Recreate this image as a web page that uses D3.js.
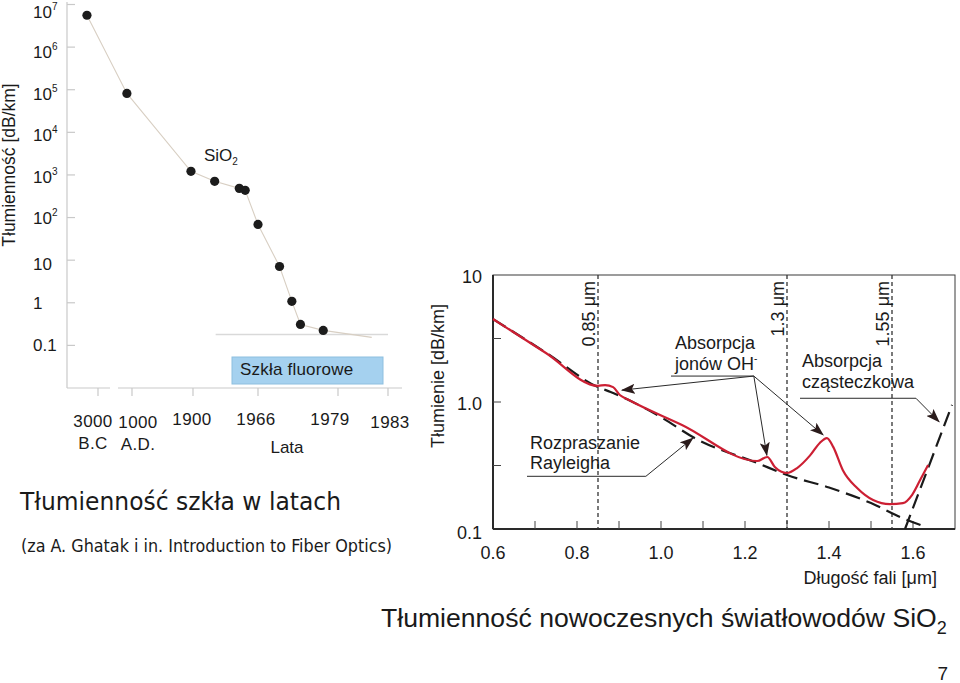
<!DOCTYPE html>
<html><head><meta charset="utf-8">
<script src="https://cdn.jsdelivr.net/npm/d3@7"></script>
<style>
body{margin:0;background:#fff}
svg{display:block}
text{fill:#1a1a1a}
</style>
</head><body>
<svg id="c" width="960" height="683"></svg>
<script>
// ---------- Left chart: glass attenuation over the years ----------
const histYears = [-4300, 400, 1870, 1922, 1947, 1953, 1966, 1969.5, 1971.5, 1972.9, 1976.6];
const histLoss  = [5.6e6, 8.2e4, 1215, 708, 484, 435, 69, 7.1, 1.08, 0.31, 0.225];
const trendYears = [-4300, 400, 1870, 1922, 1947, 1953, 1966, 1969.5, 1971.5, 1972.9, 1976.6, 1981.7];
const trendLoss  = [5.6e6, 8.2e4, 1215, 708, 484, 435, 69, 7.1, 1.08, 0.31, 0.225, 0.154];
const fluorideYears = [1923, 1983];
const fluorideLoss  = [0.18, 0.18];
const yearTicks = [-3000, 1000, 1900, 1966, 1979, 1983];
const yearTickLabels = [["3000","B.C"],["1000","A.D."],["1900"],["1966"],["1979"],["1983"]];
const lossTicks = [1e7, 1e6, 1e5, 1e4, 1e3, 1e2, 10, 1, 0.1];
const lossTickLabels = [["10","7"],["10","6"],["10","5"],["10","4"],["10","3"],["10","2"],["10",""],["1",""],["0.1",""]];

// ---------- Right chart: modern SiO2 fibre attenuation ----------
const fibreWl   = [0.6, 0.726, 0.85, 0.867, 0.886, 0.902, 0.919, 1.05, 1.229, 1.253, 1.271, 1.3, 1.324, 1.355, 1.378, 1.395, 1.41, 1.433, 1.467, 1.505, 1.545, 1.576, 1.598, 1.617, 1.636];
const fibreLoss = [4.5, 2.43, 1.34, 1.36, 1.31, 1.135, 1.056, 0.66, 0.343, 0.369, 0.308, 0.276, 0.302, 0.38, 0.476, 0.52, 0.443, 0.29, 0.21, 0.169, 0.157, 0.16, 0.186, 0.243, 0.319];
const rayleighWl   = [0.6, 0.73, 0.85, 0.88, 1.0, 1.08, 1.23, 1.3, 1.4, 1.5, 1.57, 1.63];
const rayleighLoss = [4.5, 2.4, 1.31, 1.2, 0.76, 0.52, 0.33, 0.266, 0.212, 0.16, 0.124, 0.104];
const irWl   = [1.581, 1.693];
const irLoss = [0.1, 0.95];
const markerWl = [0.85, 1.3, 1.55];
const markerLabels = ["0.85 \u03bcm", "1.3 \u03bcm", "1.55 \u03bcm"];
const wlTicks = [0.6, 0.8, 1.0, 1.2, 1.4, 1.6];
const wlTickLabels = ["0.6", "0.8", "1.0", "1.2", "1.4", "1.6"];
const wlMinorTicks = [0.7, 0.8, 0.9, 1.0, 1.1, 1.2, 1.3, 1.4, 1.5, 1.6];
const attTicks = [10, 1, 0.1];
const attTickLabels = ["10", "1.0", "0.1"];
const attMinorTicks = [3.162, 0.3162];
// annotation anchor points (wavelength, attenuation)
const ohOrigin = [1.221, 1.6];
const ohTips = [[0.907, 1.24], [1.252, 0.38], [1.386, 0.55]];
const molOrigin = [1.607, 1.07];
const molTip = [1.662, 0.7];
const rayOrigin = [0.964, 0.26];
const rayTip = [1.076, 0.52];

const SANS = '"Liberation Sans", Arial, sans-serif';
const TAHOMA = '"DejaVu Sans Condensed", "DejaVu Sans", Tahoma, Verdana, sans-serif';

const svg = d3.select("#c").style("font-family", SANS);
const defs = svg.append("defs");
defs.append("marker").attr("id","ah").attr("viewBox","0 0 14 10")
  .attr("refX",13).attr("refY",5).attr("markerWidth",14).attr("markerHeight",10)
  .attr("markerUnits","userSpaceOnUse").attr("orient","auto")
  .append("path").attr("d","M0,0 L14,5 L0,10 L3,5 Z").attr("fill","#2a1b1b");

// ===== Left chart =====
const L = svg.append("g");
const xL = d3.scaleLinear().domain(yearTicks).range([98, 132, 193, 258, 338, 388]);
const yL = d3.scaleLog().domain([0.01, 1e7]).range([388, 4.5]);
const axisGray = "#c9c9c9";
L.append("line").attr("x1",67).attr("x2",67).attr("y1",2).attr("y2",yL(0.01)).attr("stroke",axisGray).attr("stroke-width",1.2);
L.selectAll(".ytk").data(lossTicks).join("line")
  .attr("x1",67).attr("x2",75).attr("y1",d=>yL(d)).attr("y2",d=>yL(d)).attr("stroke",axisGray).attr("stroke-width",1.2);
const labelNudge = [13.5, 11, 10, 9, 8, 6, 10, 6, 6];
const ylab = L.selectAll(".ylab").data(lossTicks).join("text")
  .attr("x",33).attr("y",(d,i)=>yL(d)+labelNudge[i]).attr("font-size",17);
ylab.append("tspan").text((d,i)=>lossTickLabels[i][0]);
ylab.append("tspan").attr("font-size",10).attr("dy",-8).text((d,i)=>lossTickLabels[i][1]);
L.append("line").attr("x1",67).attr("x2",110).attr("y1",388).attr("y2",388).attr("stroke",axisGray).attr("stroke-width",1.2);
L.append("line").attr("x1",118).attr("x2",402).attr("y1",388).attr("y2",388).attr("stroke",axisGray).attr("stroke-width",1.2);
L.selectAll(".xtk").data(yearTicks).join("line")
  .attr("x1",d=>xL(d)).attr("x2",d=>xL(d)).attr("y1",388).attr("y2",396).attr("stroke",axisGray).attr("stroke-width",1.2);
const nudge = [-5, 6, -1, -2, -8, 2];
const lineY = [427, 428, 425, 425, 425, 428];
yearTicks.forEach((t,i)=>{
  const txt = L.append("text").attr("font-size",17).attr("letter-spacing",0.4);
  yearTickLabels[i].forEach((s,k)=>{
    txt.append("tspan").attr("x", xL(t)+nudge[i]).attr("y", lineY[i] + k*22)
      .attr("text-anchor", "middle").text(s);
  });
});
L.append("text").attr("x",287).attr("y",453).attr("font-size",17).attr("text-anchor","middle").text("Lata");
L.append("text").attr("transform","translate(15,165) rotate(-90)").attr("font-size",17.5)
  .attr("text-anchor","middle").text("Tłumienność [dB/km]");
L.append("path").datum(fluorideYears.map((y,i)=>[y,fluorideLoss[i]]))
  .attr("d", d3.line().x(d=>xL(d[0])).y(d=>yL(d[1])))
  .attr("fill","none").attr("stroke","#d9d9d9").attr("stroke-width",1.5);
L.append("path").datum(trendYears.map((y,i)=>[y,trendLoss[i]]))
  .attr("d", d3.line().x(d=>xL(d[0])).y(d=>yL(d[1])))
  .attr("fill","none").attr("stroke","#d8cfc3").attr("stroke-width",1.1);
L.selectAll(".pt").data(histYears.map((y,i)=>[y,histLoss[i]])).join("circle")
  .attr("cx",d=>xL(d[0])).attr("cy",d=>yL(d[1])).attr("r",4.6).attr("fill","#1c1c1c");
const sio = L.append("text").attr("x",204).attr("y",161).attr("font-size",17);
sio.append("tspan").text("SiO");
sio.append("tspan").attr("font-size",10).attr("dy",4).text("2");
L.append("rect").attr("x",232).attr("y",357).attr("width",151).attr("height",27)
  .attr("fill","#a5d1ef").attr("stroke","#8ebfdf").attr("stroke-width",1);
L.append("text").attr("x",240).attr("y",375).attr("font-size",17).attr("letter-spacing",0.2).text("Szkła fluorowe");

// ===== Right chart =====
const R = svg.append("g");
const xR = d3.scaleLinear().domain([0.6, 1.7]).range([493, 955]);
const yR = d3.scaleLog().domain([0.1, 10]).range([529, 275]);
R.append("rect").attr("x",xR(0.6)).attr("y",yR(10)).attr("width",xR(1.7)-xR(0.6)).attr("height",yR(0.1)-yR(10))
  .attr("fill","none").attr("stroke","#3a3a3a").attr("stroke-width",1);
R.append("line").attr("x1",xR(0.6)).attr("x2",xR(0.6)).attr("y1",yR(10)).attr("y2",yR(0.1)).attr("stroke","#2a2a2a").attr("stroke-width",2);
R.append("line").attr("x1",xR(0.6)).attr("x2",xR(1.7)).attr("y1",yR(0.1)).attr("y2",yR(0.1)).attr("stroke","#2a2a2a").attr("stroke-width",2);
R.selectAll(".xmt").data(wlMinorTicks).join("line")
  .attr("x1",d=>xR(d)).attr("x2",d=>xR(d)).attr("y1",yR(0.1)).attr("y2",yR(0.1)-8).attr("stroke","#444").attr("stroke-width",1);
R.selectAll(".ymt").data(attMinorTicks.concat([1])).join("line")
  .attr("x1",xR(0.6)).attr("x2",xR(0.6)+8).attr("y1",d=>yR(d)).attr("y2",d=>yR(d)).attr("stroke","#444").attr("stroke-width",1);
R.selectAll(".xl").data(wlTicks).join("text")
  .attr("x",d=>xR(d)).attr("y",559).attr("text-anchor","middle").attr("font-size",18).text((d,i)=>wlTickLabels[i]);
R.selectAll(".yl").data(attTicks).join("text")
  .attr("x",482).attr("y",(d,i)=>yR(d)+(i==2?10:8)).attr("text-anchor","end").attr("font-size",18).text((d,i)=>attTickLabels[i]);
R.append("text").attr("transform","translate(444,376) rotate(-90)").attr("text-anchor","middle").attr("font-size",18).text("Tłumienie [dB/km]");
R.append("text").attr("x",937).attr("y",584).attr("text-anchor","end").attr("font-size",18).text("Długość fali [\u03bcm]");
R.selectAll(".vm").data(markerWl).join("line")
  .attr("x1",d=>xR(d)).attr("x2",d=>xR(d)).attr("y1",yR(10)).attr("y2",yR(0.1))
  .attr("stroke","#333").attr("stroke-width",1.3).attr("stroke-dasharray","4,3");
R.selectAll(".vml").data(markerWl).join("text")
  .attr("transform",d=>`translate(${xR(d)-3},281) rotate(-90)`).attr("text-anchor","end").attr("font-size",18)
  .text((d,i)=>markerLabels[i]);
R.append("path").datum(rayleighWl.map((w,i)=>[w,rayleighLoss[i]]))
  .attr("d", d3.line().x(d=>xR(d[0])).y(d=>yR(d[1])).curve(d3.curveMonotoneX))
  .attr("fill","none").attr("stroke","#1a1a1a").attr("stroke-width",2.2).attr("stroke-dasharray","15,7");
R.append("path").datum(irWl.map((w,i)=>[w,irLoss[i]]))
  .attr("d", d3.line().x(d=>xR(d[0])).y(d=>yR(d[1]))).attr("fill","none").attr("stroke","#1a1a1a").attr("stroke-width",2.2).attr("stroke-dasharray","15,7");
R.append("path").datum(fibreWl.map((w,i)=>[w,fibreLoss[i]]))
  .attr("d", d3.line().x(d=>xR(d[0])).y(d=>yR(d[1])).curve(d3.curveMonotoneX)).attr("fill","none").attr("stroke","#cc1f33").attr("stroke-width",2.2);
const P = p => [xR(p[0]), yR(p[1])];
const ann = R.append("g").attr("stroke","#2a2a2a").attr("stroke-width",1).attr("fill","none");
const ohO = P(ohOrigin);
ann.append("line").attr("x1",671).attr("x2",ohO[0]).attr("y1",ohO[1]).attr("y2",ohO[1]);
ohTips.forEach(t=>{ const q=P(t);
  ann.append("line").attr("x1",ohO[0]).attr("y1",ohO[1]).attr("x2",q[0]).attr("y2",q[1]).attr("marker-end","url(#ah)"); });
const mO = P(molOrigin), mT = P(molTip);
ann.append("line").attr("x1",800).attr("x2",mO[0]).attr("y1",mO[1]).attr("y2",mO[1]);
ann.append("line").attr("x1",mO[0]).attr("y1",mO[1]).attr("x2",mT[0]).attr("y2",mT[1]).attr("marker-end","url(#ah)");
const rO = P(rayOrigin), rT = P(rayTip);
ann.append("line").attr("x1",527).attr("x2",rO[0]).attr("y1",rO[1]).attr("y2",rO[1]);
ann.append("line").attr("x1",rO[0]).attr("y1",rO[1]).attr("x2",rT[0]).attr("y2",rT[1]).attr("marker-end","url(#ah)");
R.append("text").attr("x",675).attr("y",349).attr("font-size",18).text("Absorpcja");
const oh = R.append("text").attr("x",675).attr("y",370).attr("font-size",18);
oh.append("tspan").text("jonów OH");
oh.append("tspan").attr("font-size",10).attr("dy",-8).text("-");
R.append("text").attr("x",802).attr("y",367).attr("font-size",18).text("Absorpcja");
R.append("text").attr("x",802).attr("y",388).attr("font-size",18).text("cząsteczkowa");
R.append("text").attr("x",530).attr("y",449).attr("font-size",18).text("Rozpraszanie");
R.append("text").attr("x",530).attr("y",469).attr("font-size",18).text("Rayleigha");

// ===== Captions =====
svg.append("text").style("font-family", TAHOMA).attr("x",20).attr("y",510).attr("font-size",25)
  .attr("textLength",321).attr("lengthAdjust","spacingAndGlyphs").text("Tłumienność szkła w latach");
svg.append("text").style("font-family", TAHOMA).attr("x",21).attr("y",552).attr("font-size",17.5)
  .attr("textLength",371).attr("lengthAdjust","spacingAndGlyphs").text("(za A. Ghatak i in. Introduction to Fiber Optics)");
const t2 = svg.append("text").attr("x",381).attr("y",627).attr("font-size",26.6);
t2.append("tspan").text("Tłumienność nowoczesnych światłowodów SiO");
t2.append("tspan").attr("font-size",18).attr("dy",7).text("2");
svg.append("text").attr("x",948).attr("y",680).attr("text-anchor","end").attr("font-size",19).text("7");
</script>
</body></html>
